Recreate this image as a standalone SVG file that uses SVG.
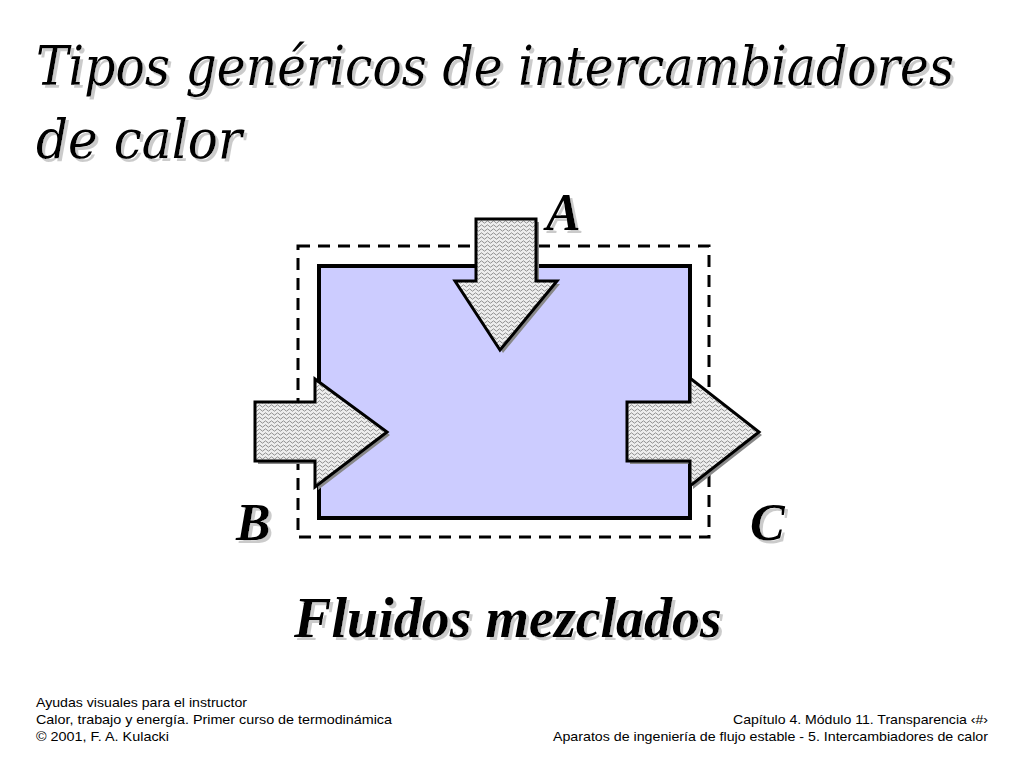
<svg xmlns="http://www.w3.org/2000/svg" width="1024" height="768" viewBox="0 0 1024 768">
<style>
.t{font-family:"Liberation Serif","DejaVu Serif","Times New Roman",serif;font-style:italic;fill:#000;filter:url(#ds)}
.tt{font-family:"DejaVu Serif",serif;font-style:italic;fill:#000;filter:url(#ds)}
.b{font-weight:bold}
.f{font-family:"Liberation Sans",Arial,sans-serif;font-size:13px;fill:#000}
.arr{fill:url(#wave);stroke:#000;stroke-width:3;stroke-linejoin:miter}
.ash{fill:#888;stroke:none}
</style>
<defs>
<filter id="ds" x="-5%" y="-20%" width="110%" height="140%">
<feOffset in="SourceAlpha" dx="3" dy="3" result="o"/>
<feColorMatrix in="o" type="matrix" values="0 0 0 0 0.6  0 0 0 0 0.6  0 0 0 0 0.6  0 0 0 1 0" result="s"/>
<feMerge><feMergeNode in="s"/><feMergeNode in="SourceGraphic"/></feMerge>
</filter>
<pattern id="wave" width="6" height="4" patternUnits="userSpaceOnUse">
<rect width="6" height="4" fill="#eee"/>
<path d="M0,2 L1.5,0.8 L3,2 L4.5,3.2 L6,2" fill="none" stroke="#666" stroke-width="0.7"/>
</pattern>
</defs>
<rect width="1024" height="768" fill="#fff"/>
<g id="title">
<text class="tt" x="36" y="85" font-size="54" textLength="918" lengthAdjust="spacingAndGlyphs">Tipos genéricos de intercambiadores</text>
<text class="tt" x="36" y="158" font-size="54" textLength="206" lengthAdjust="spacingAndGlyphs">de calor</text>
</g>
<g id="boundary">
<rect x="298" y="246" width="411" height="291" fill="none" stroke="#000" stroke-width="3" stroke-dasharray="12,8"/>
</g>
<g id="chamber">
<rect x="319" y="266" width="371" height="252" fill="#ccf" stroke="#000" stroke-width="4"/>
</g>
<g id="connectors">
<g id="arrowA">
<polygon class="ash" points="479,222 539,222 539,284 560,284 503,353 458,284 479,284"/>
<polygon class="arr" points="476,219 536,219 536,281 557,281 500,350 455,281 476,281"/>
</g>
<g id="arrowB">
<polygon class="ash" points="258,405 318,405 318,382 390,435 318,490 318,464 258,464"/>
<polygon class="arr" points="255,402 315,402 315,379 387,432 315,487 315,461 255,461"/>
</g>
<g id="arrowC">
<polygon class="ash" points="630,405 693,405 693,381 762,435 693,489 693,464 630,464"/>
<polygon class="arr" points="627,402 690,402 690,378 759,432 690,486 690,461 627,461"/>
</g>
</g>
<g id="labels">
<text class="t b" x="546" y="230" font-size="52">A</text>
<text class="t b" x="236" y="540" font-size="52">B</text>
<text class="t b" x="750" y="540" font-size="52">C</text>
<text class="t b" x="508" y="637" font-size="56" text-anchor="middle">Fluidos mezclados</text>
</g>
<g id="footer">
<text class="f" x="36" y="707" textLength="211" lengthAdjust="spacingAndGlyphs">Ayudas visuales para el instructor</text>
<text class="f" x="36" y="724" textLength="356" lengthAdjust="spacingAndGlyphs">Calor, trabajo y energía.  Primer curso de termodinámica</text>
<text class="f" x="36" y="741" textLength="133" lengthAdjust="spacingAndGlyphs">© 2001, F. A. Kulacki</text>
<text class="f" x="988" y="724" text-anchor="end" textLength="255" lengthAdjust="spacingAndGlyphs">Capítulo 4. Módulo 11. Transparencia ‹#›</text>
<text class="f" x="988" y="741" text-anchor="end" textLength="435" lengthAdjust="spacingAndGlyphs">Aparatos de ingeniería de flujo estable - 5. Intercambiadores de calor</text>
</g>
</svg>
